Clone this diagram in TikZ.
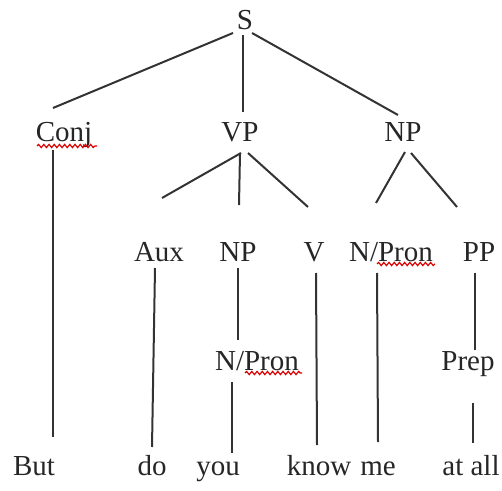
\documentclass[tikz,border=0pt]{standalone}
\usepackage{fontspec}
\setmainfont{Liberation Serif}
\usetikzlibrary{decorations.pathmorphing}
\begin{document}
\begin{tikzpicture}[x=0.5pt,y=-0.5pt,
  lbl/.style={anchor=base,inner sep=0pt,font=\fontsize{14.5}{17}\selectfont,text=black!85},
  edge/.style={draw=black!80,line width=1pt},
  squig/.style={draw=red!85!black,line width=0.6pt,decorate,decoration={snake,segment length=2.6pt,amplitude=0.8pt}}]
\useasboundingbox (0,0) rectangle (502,491);
% nodes
\node[lbl] (S) at (245,30) {S};
\node[lbl] (Conj) at (64,142) {Conj};
\node[lbl] (VP) at (240,142) {VP};
\node[lbl] (NP) at (403,142) {NP};
\node[lbl] (Aux) at (159,262) {Aux};
\node[lbl] (NPb) at (238,262) {NP};
\node[lbl] (V) at (314,262) {V};
\node[lbl] (NPrA) at (391,262) {N/Pron};
\node[lbl] (PP) at (479,262) {PP};
\node[lbl] (NPrB) at (257,370) {N/Pron};
\node[lbl] (Prep) at (468,370) {Prep};
\node[lbl] (But) at (34,475) {But};
\node[lbl] (do) at (152,475) {do};
\node[lbl] (you) at (218,475) {you};
\node[lbl] (know) at (319,475) {know};
\node[lbl] (me) at (378,475) {me};
\node[lbl] (atall) at (471,475) {at all};
% connector end points
\coordinate (s1) at (233,33);  \coordinate (c1) at (53,108);
\coordinate (s2) at (243,35);  \coordinate (v0) at (243,112);
\coordinate (s3) at (252,33);  \coordinate (n0) at (398,115);
\coordinate (c2) at (53,150);  \coordinate (b1) at (53,437);
\coordinate (v1) at (241,153); \coordinate (a1) at (162,198);
\coordinate (v2) at (240,153); \coordinate (p1) at (239,205);
\coordinate (v3) at (248,153); \coordinate (w1) at (308,207);
\coordinate (n1) at (405,152); \coordinate (r1) at (376,203);
\coordinate (n2) at (411,153); \coordinate (q1) at (457,207);
\coordinate (a2) at (155,268); \coordinate (d1) at (152,447);
\coordinate (p2) at (238,268); \coordinate (p3) at (238,340);
\coordinate (w2) at (316,273); \coordinate (k1) at (317,445);
\coordinate (r2) at (377,273); \coordinate (m1) at (378,442);
\coordinate (q2) at (475,273); \coordinate (q3) at (475,350);
\coordinate (y0) at (232,382); \coordinate (y1) at (232,453);
\coordinate (t0) at (473,403); \coordinate (t1) at (473,443);
% connectors
\path[edge] (s1) -- (c1);
\path[edge] (s2) -- (v0);
\path[edge] (s3) -- (n0);
\path[edge] (c2) -- (b1);
\path[edge] (v1) -- (a1);
\path[edge] (v2) -- (p1);
\path[edge] (v3) -- (w1);
\path[edge] (n1) -- (r1);
\path[edge] (n2) -- (q1);
\path[edge] (a2) -- (d1);
\path[edge] (p2) -- (p3);
\path[edge] (w2) -- (k1);
\path[edge] (r2) -- (m1);
\path[edge] (q2) -- (q3);
\path[edge] (y0) -- (y1);
\path[edge] (t0) -- (t1);
% spell-check squiggles
\path[squig] (37,146) -- (97,146);
\path[squig] (377,264) -- (435,264);
\path[squig] (245,373) -- (302,373);
\end{tikzpicture}
\end{document}
